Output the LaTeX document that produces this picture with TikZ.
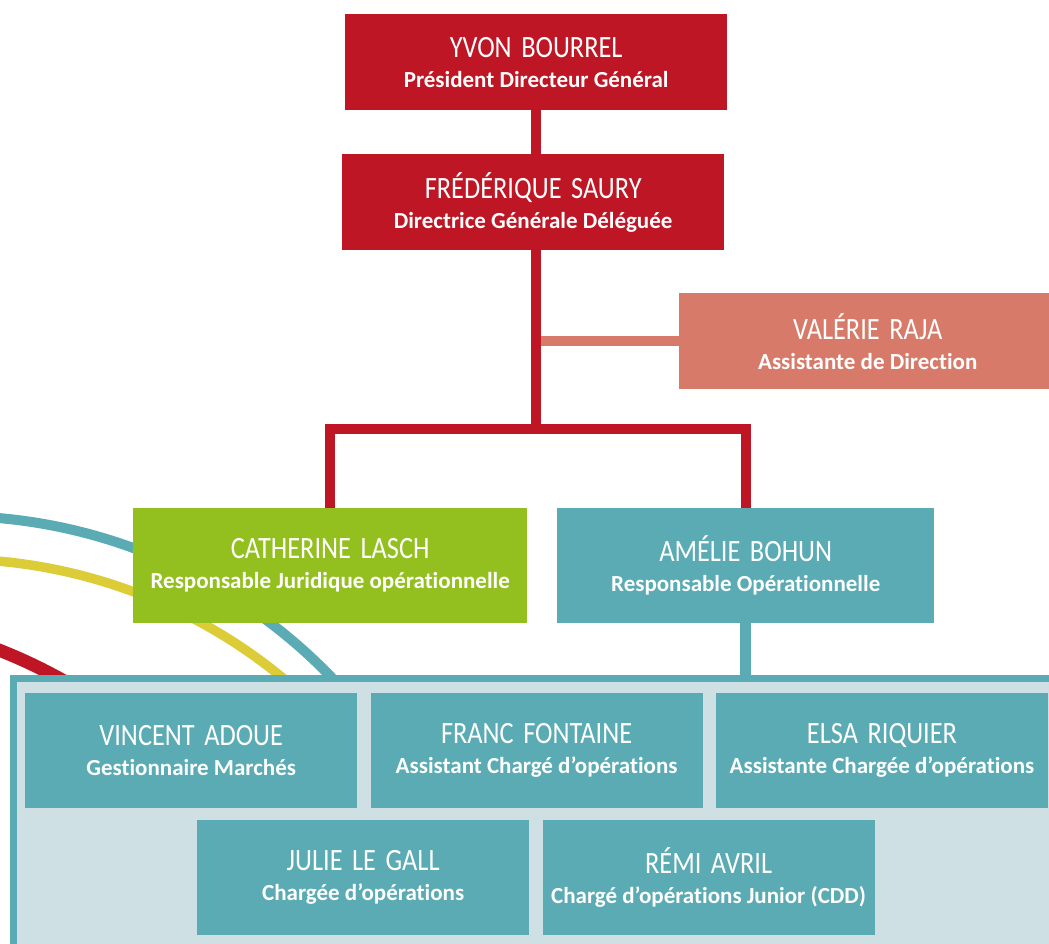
\documentclass[tikz,border=0pt]{standalone}
\usepackage{fontspec}
\setmainfont{Carlito}[Ligatures=NoCommon]
\newfontfamily\nomfont[FakeStretch=0.85,WordSpace=1.6]{Carlito}
\usetikzlibrary{positioning}

\definecolor{rougedir}{RGB}{190,22,36}
\definecolor{saumon}{RGB}{215,122,105}
\definecolor{vertjur}{RGB}{147,192,31}
\definecolor{bleuop}{RGB}{91,171,180}
\definecolor{bleupale}{RGB}{207,224,228}
\definecolor{jaunearc}{RGB}{220,205,56}

\newcommand{\fiche}[2]{{\nomfont\mdseries\fontsize{31}{30}\selectfont #1}\\#2}

\begin{document}
\begin{tikzpicture}[x=1pt, y=-1pt,
    carte/.style={rectangle, inner sep=0pt, anchor=north west, align=center, text=white,
        font=\fontsize{23}{30}\selectfont\bfseries},
    haut/.style={carte, minimum width=382pt, minimum height=96pt},
    resp/.style={carte, minimum height=115pt},
    equipier/.style={carte, fill=bleuop, minimum width=332pt, minimum height=115pt},
    lien/.style={line width=10pt}
]
    \useasboundingbox (0,0) rectangle (1049,944);

    % Decorative arcs
    \begin{scope}
        \clip (0,0) rectangle (1049,676);
        \draw[rougedir, line width=13pt] (-192,1136) circle[radius=522pt];
        \draw[jaunearc, line width=9.5pt] (-49,1081) circle[radius=522pt];
        \draw[bleuop, line width=10pt] (-48,1043) circle[radius=527pt];
    \end{scope}

    % Direction
    \node[haut, fill=rougedir] (pdg) at (345,14) {\fiche{YVON BOURREL}{Président Directeur Général}};
    \node[haut, fill=rougedir] (dgd) at (342,154) {\fiche{FRÉDÉRIQUE SAURY}{Directrice Générale Déléguée}};
    \node[carte, fill=saumon, minimum width=377pt, minimum height=96pt] (assist) at (679,293)
        {\fiche{VALÉRIE RAJA}{Assistante de Direction}};

    % Responsables
    \node[resp, fill=vertjur, minimum width=394pt] (jur) at (133,508)
        {\fiche{CATHERINE LASCH}{Responsable Juridique opérationnelle}};
    \node[resp, fill=bleuop, minimum width=377pt] (ope) at (557,508)
        {\fiche{AMÉLIE BOHUN}{Responsable Opérationnelle}};

    % Team panel
    \fill[bleupale] (13,678.5) rectangle (1060,960);
    \draw[bleuop, line width=7pt] (13,960) -- (13,678.5) -- (1060,678.5);
    \coordinate (equipe) at (ope.south |- 0,676);

    \node[equipier] (adoue) at (25,693) {\fiche{VINCENT ADOUE}{Gestionnaire Marchés}};
    \node[equipier, right=13pt of adoue] (fontaine) {\fiche{FRANC FONTAINE}{Assistant Chargé d’opérations}};
    \node[equipier, right=13pt of fontaine] (riquier) {\fiche{ELSA RIQUIER}{Assistante Chargée d’opérations}};
    \node[equipier] (legall) at (197,820) {\fiche{JULIE LE GALL}{Chargée d’opérations}};
    \node[equipier, right=13pt of legall] (avril) {\fiche{RÉMI AVRIL}{Chargé d’opérations Junior (CDD)}};

    % Links
    \draw[lien, saumon] (assist.west) -- (assist.west -| dgd.south);
    \draw[lien, rougedir] (pdg.south) -- (pdg.south |- dgd.north);
    \coordinate (noeud) at (pdg.south |- 0,429);
    \draw[lien, rougedir] (pdg.south |- dgd.south) -- (noeud);
    \draw[lien, rougedir] (jur.north) |- (noeud) -| (ope.north);
    \draw[lien, bleuop, line width=11pt] (ope.south) -- (equipe);
\end{tikzpicture}
\end{document}
